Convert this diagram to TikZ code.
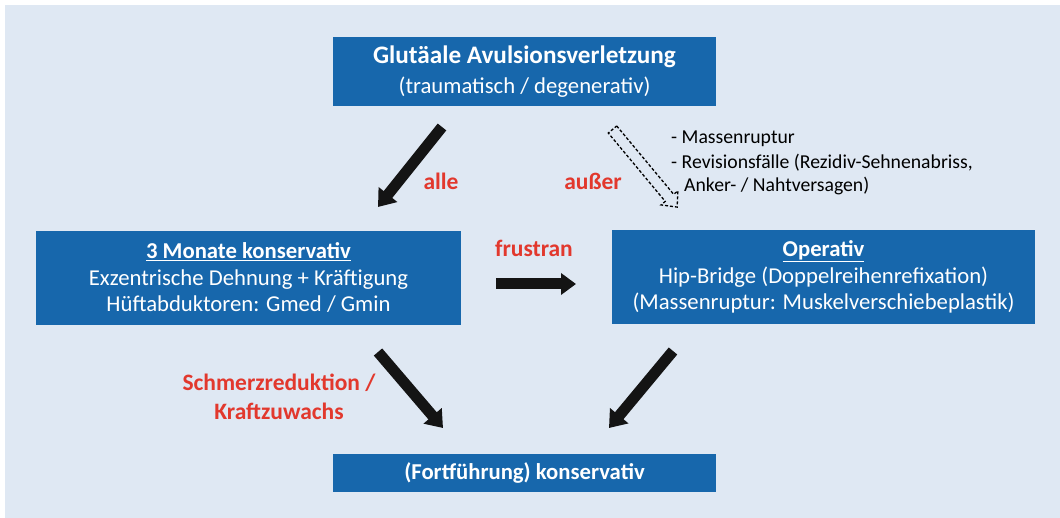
\documentclass[tikz,border=0pt]{standalone}
\usepackage{fontspec}
\setmainfont{Carlito}
\usetikzlibrary{arrows.meta,positioning}
\definecolor{avbg}{HTML}{DFE8F3}
\definecolor{avblue}{HTML}{1767AC}
\definecolor{avred}{HTML}{E2382D}
\definecolor{avblack}{HTML}{141414}

\begin{document}
\begin{tikzpicture}[x=1pt, y=-1pt,
  box/.style={fill=avblue, text=white, align=center, inner sep=0pt,
              font=\fontsize{22.7}{26.5}\selectfont},
  lbl/.style={text=avred, font=\fontsize{23.5}{29}\selectfont\bfseries, align=center, inner sep=0pt},
  fat/.style={line width=11pt, draw=avblack, -{Triangle[length=16pt,width=23pt]}},
  note/.style={font=\fontsize{19.7}{24}\selectfont, inner sep=0pt, anchor=base west},
]
\useasboundingbox (0,0) rectangle (1060,518);
\fill[avbg] (5,5) rectangle (1060,518);

% boxes
\node[box, minimum width=383pt, minimum height=69pt] (inj) at (524.5,71.5)
  {{\fontsize{25.2}{30}\selectfont\bfseries Glutäale Avulsionsverletzung}\\[3pt](traumatisch / degenerativ)};
\node[box, minimum width=425pt, minimum height=94pt] (kons) at (248.5,278)
  {\textbf{\underline{3 Monate konservativ}}\\Exzentrische Dehnung + Kräftigung\\Hüftabduktoren: Gmed / Gmin};
\node[box, minimum width=423pt, minimum height=94pt] (op) at (823.5,277)
  {\textbf{\underline{Operativ}}\\Hip-Bridge (Doppelreihenrefixation)\\(Massenruptur: Muskelverschiebeplastik)};
\node[box, minimum width=383pt, minimum height=38pt] (fort) at (524.5,473)
  {\textbf{(Fortführung) konservativ}};

% arrow ends
\coordinate (alleS) at (442,127);
\coordinate (alleE) at (378,207);
\coordinate (frusS) at (496,284);
\coordinate (frusE) at (576,284);
\coordinate (schmS) at (378,352);
\coordinate (schmE) at (443,428);
\coordinate (opS) at (673,351);
\coordinate (opE) at (609,428);

\draw[fat] (alleS) -- (alleE);
\draw[fat, -{Triangle[length=15pt,width=21pt]}] (frusS) -- (frusE);
\draw[fat] (schmS) -- (schmE);
\draw[fat] (opS) -- (opE);

% dashed arrow (ausser)
\begin{scope}[shift={(612.5,129.5)}, rotate=-50.2, dash pattern=on 3pt off 2pt, line width=1.3pt]
  \draw (0,-5.5) -- (89,-5.5) -- (89,-11) -- (101,0) -- (89,11) -- (89,5.5) -- (0,5.5) -- cycle;
\end{scope}

% labels
\node[lbl] (alle) at (441,181) {alle};
\node[lbl] (ausser) at (593,181) {außer};
\node[lbl] (frus) at (534,248) {frustran};
\node[lbl] (schm) at (279,397) {Schmerzreduktion /\\Kraftzuwachs};

\node[note] (n1) at (671,144) {- Massenruptur};
\node[note] (n2) at (671,169) {- Revisionsfälle (Rezidiv-Sehnenabriss,};
\node[note] (n3) at (684,192) {Anker- / Nahtversagen)};
\end{tikzpicture}
\end{document}
